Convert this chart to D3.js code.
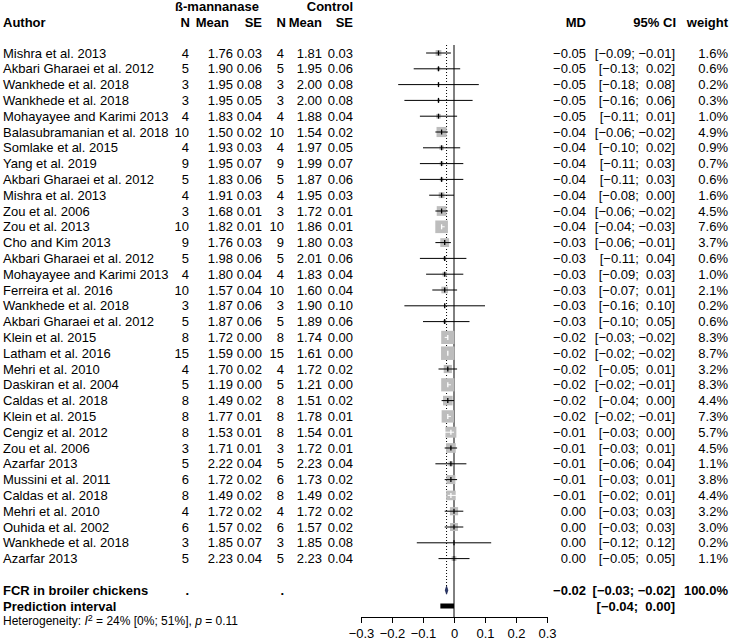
<!DOCTYPE html>
<html><head><meta charset="utf-8">
<script src="https://cdn.jsdelivr.net/npm/d3@7"></script>
<style>body{margin:0;background:#fff} text{font-family:"Liberation Sans",Arial,sans-serif;white-space:pre}</style>
</head><body><svg id="c" width="729" height="644"></svg>
<script>
const authors=["Mishra et al. 2013","Akbari Gharaei et al. 2012","Wankhede et al. 2018","Wankhede et al. 2018","Mohayayee and Karimi 2013","Balasubramanian et al. 2018","Somlake et al. 2015","Yang et al. 2019","Akbari Gharaei et al. 2012","Mishra et al. 2013","Zou et al. 2006","Zou et al. 2013","Cho and Kim 2013","Akbari Gharaei et al. 2012","Mohayayee and Karimi 2013","Ferreira et al. 2016","Wankhede et al. 2018","Akbari Gharaei et al. 2012","Klein et al. 2015","Latham et al. 2016","Mehri et al. 2010","Daskiran et al. 2004","Caldas et al. 2018","Klein et al. 2015","Cengiz et al. 2012","Zou et al. 2006","Azarfar 2013","Mussini et al. 2011","Caldas et al. 2018","Mehri et al. 2010","Ouhida et al. 2002","Wankhede et al. 2018","Azarfar 2013"];
const trtN=[4,5,3,3,4,10,4,9,5,4,3,10,9,5,4,10,3,5,8,15,4,5,8,8,8,3,5,6,8,4,6,3,5];
const trtMean=[1.76,1.90,1.95,1.95,1.83,1.50,1.93,1.95,1.83,1.91,1.68,1.82,1.76,1.98,1.80,1.57,1.87,1.87,1.72,1.59,1.70,1.19,1.49,1.77,1.53,1.71,2.22,1.72,1.49,1.72,1.57,1.85,2.23];
const trtSE=[0.03,0.06,0.08,0.05,0.04,0.02,0.03,0.07,0.06,0.03,0.01,0.01,0.03,0.06,0.04,0.04,0.06,0.06,0.00,0.00,0.02,0.00,0.02,0.01,0.01,0.01,0.04,0.02,0.02,0.02,0.02,0.07,0.04];
const ctlN=[4,5,3,3,4,10,4,9,5,4,3,10,9,5,4,10,3,5,8,15,4,5,8,8,8,3,5,6,8,4,6,3,5];
const ctlMean=[1.81,1.95,2.00,2.00,1.88,1.54,1.97,1.99,1.87,1.95,1.72,1.86,1.80,2.01,1.83,1.60,1.90,1.89,1.74,1.61,1.72,1.21,1.51,1.78,1.54,1.72,2.23,1.73,1.49,1.72,1.57,1.85,2.23];
const ctlSE=[0.03,0.06,0.08,0.08,0.04,0.02,0.05,0.07,0.06,0.03,0.01,0.01,0.03,0.06,0.04,0.04,0.10,0.06,0.00,0.00,0.02,0.00,0.02,0.01,0.01,0.01,0.04,0.02,0.02,0.02,0.02,0.08,0.04];
const md=[-0.05,-0.05,-0.05,-0.05,-0.05,-0.04,-0.04,-0.04,-0.04,-0.04,-0.04,-0.04,-0.03,-0.03,-0.03,-0.03,-0.03,-0.03,-0.02,-0.02,-0.02,-0.02,-0.02,-0.02,-0.01,-0.01,-0.01,-0.01,-0.01,0.00,0.00,0.00,0.00];
const ciLow=[-0.09,-0.13,-0.18,-0.16,-0.11,-0.06,-0.10,-0.11,-0.11,-0.08,-0.06,-0.04,-0.06,-0.11,-0.09,-0.07,-0.16,-0.10,-0.03,-0.02,-0.05,-0.02,-0.04,-0.02,-0.03,-0.03,-0.06,-0.03,-0.02,-0.03,-0.03,-0.12,-0.05];
const ciHigh=[-0.01,0.02,0.08,0.06,0.01,-0.02,0.02,0.03,0.03,0.00,-0.02,-0.03,-0.01,0.04,0.03,0.01,0.10,0.05,-0.02,-0.02,0.01,-0.01,0.00,-0.01,0.00,0.01,0.04,0.01,0.01,0.03,0.03,0.12,0.05];
const weight=[1.6,0.6,0.2,0.3,1.0,4.9,0.9,0.7,0.6,1.6,4.5,7.6,3.7,0.6,1.0,2.1,0.2,0.6,8.3,8.7,3.2,8.3,4.4,7.3,5.7,4.5,1.1,3.8,4.4,3.2,3.0,0.2,1.1];
const summary={label:"FCR in broiler chickens",md:-0.024,lo:-0.028,hi:-0.020,weight:100.0};
const prediction={label:"Prediction interval",lo:-0.044,hi:0.000};
const heterogeneity={i2:"24%",ci:"[0%; 51%]",p:"0.11"};
const ticks=[-0.3,-0.2,-0.1,0,0.1,0.2,0.3];

const svg=d3.select("#c");
const x=d3.scaleLinear().domain([-0.3,0.3]).range([361,547]);
const y=d3.scaleLinear().domain([0,32]).range([53,558.6]);
const side=d3.scaleSqrt().domain([0,8.7]).range([0,13.5]);
const f2=d3.format(".2f"), f1=d3.format(".1f");
const ciTxt=(l,h)=>"["+f2(l)+";"+(h<0?" ":"  ")+f2(h)+"]";

function txt(xp,yp,s,anchor,bold,size){
  return svg.append("text").attr("x",xp).attr("y",yp).attr("dy","0.36em")
    .attr("text-anchor",anchor||"start").attr("font-size",size||13)
    .attr("font-weight",bold?"bold":"normal").attr("fill","#000").text(s);
}
// headers
txt(217,6.5,"ß-mannanase","middle",true);
txt(353,6.5,"Control","end",true);
txt(3,22,"Author","start",true);
txt(190,22,"N","end",true);
txt(229,22,"Mean","end",true);
txt(262,22,"SE","end",true);
txt(286,22,"N","end",true);
txt(322,22,"Mean","end",true);
txt(353,22,"SE","end",true);
txt(586,22,"MD","end",true);
txt(676,22,"95% CI","end",true);
txt(728,22,"weight","end",true);

// study rows
authors.forEach((a,i)=>{
  const yy=y(i);
  txt(3,yy,a);
  txt(189,yy,String(trtN[i]),"end");
  txt(233,yy,f2(trtMean[i]),"end");
  txt(262,yy,f2(trtSE[i]),"end");
  txt(284,yy,String(ctlN[i]),"end");
  txt(322,yy,f2(ctlMean[i]),"end");
  txt(353,yy,f2(ctlSE[i]),"end");
  txt(586,yy,f2(md[i]),"end");
  txt(675,yy,ciTxt(ciLow[i],ciHigh[i]),"end");
  txt(728,yy,f1(weight[i])+"%","end");
});

// reference lines
svg.append("line").attr("x1",x(0)).attr("x2",x(0)).attr("y1",45).attr("y2",617)
  .attr("stroke","#000").attr("stroke-width",1);
svg.append("line").attr("x1",x(summary.md)).attr("x2",x(summary.md)).attr("y1",45).attr("y2",586)
  .attr("stroke","#000").attr("stroke-width",1).attr("stroke-dasharray","1,2");

// squares and CIs
const g=svg.append("g");
authors.forEach((a,i)=>{
  const yy=y(i), s=side(weight[i]);
  const cx=x(md[i]);
  g.append("rect").attr("x",cx-s/2).attr("y",yy-s/2).attr("width",s).attr("height",s).attr("fill","#bdbdbd");
  const inside=(x(ciHigh[i])-x(ciLow[i]))<s;
  const col=inside?"#fff":"#000";
  g.append("line").attr("x1",x(ciLow[i])).attr("x2",x(ciHigh[i])).attr("y1",yy).attr("y2",yy).attr("stroke",col).attr("stroke-width",1);
  g.append("line").attr("x1",cx).attr("x2",cx).attr("y1",yy-2.5).attr("y2",yy+2.5).attr("stroke",col).attr("stroke-width",1.3);
});

// summary
const ys=y(34), yp=y(35), yh=y(36)-1.5;
txt(3,ys,summary.label,"start",true);
txt(189,ys,".","end",true);
txt(284,ys,".","end",true);
txt(586,ys,f2(summary.md),"end",true);
txt(675,ys,ciTxt(summary.lo,summary.hi),"end",true);
txt(728,ys,f1(summary.weight)+"%","end",true);
svg.append("path").attr("d",`M${x(summary.lo)},${ys} L${x(summary.md)},${ys-4} L${x(summary.hi)},${ys} L${x(summary.md)},${ys+4} Z`)
  .attr("fill","#2b3a6e").attr("stroke","#1c2550").attr("stroke-width",0.8);
txt(3,yp,prediction.label,"start",true);
txt(675,yp,ciTxt(prediction.lo,prediction.hi),"end",true);
svg.append("rect").attr("x",x(prediction.lo)).attr("y",yp-2.5).attr("width",x(prediction.hi)-x(prediction.lo)).attr("height",5).attr("fill","#000");

// heterogeneity
const ht=svg.append("text").attr("x",3).attr("y",yh).attr("dy","0.36em").attr("font-size",12);
ht.append("tspan").text("Heterogeneity: ");
ht.append("tspan").attr("font-style","italic").text("I");
ht.append("tspan").attr("font-size",9).attr("dy","-4").text("2");
ht.append("tspan").attr("dy","4").text(" = "+heterogeneity.i2+" "+heterogeneity.ci+", ");
ht.append("tspan").attr("font-style","italic").text("p");
ht.append("tspan").text(" = "+heterogeneity.p);

// axis
const ax=svg.append("g").attr("transform","translate(0,617)")
  .call(d3.axisBottom(x).tickValues(ticks).tickSizeOuter(0).tickSize(6)
    .tickFormat(d=>d===0?"0":f1(d)));
ax.selectAll("text").attr("font-size",13).attr("font-family","Liberation Sans, Arial, sans-serif").attr("fill","#000").attr("dy","0.95em");
ax.selectAll("line,path").attr("stroke","#000");
</script></body></html>
